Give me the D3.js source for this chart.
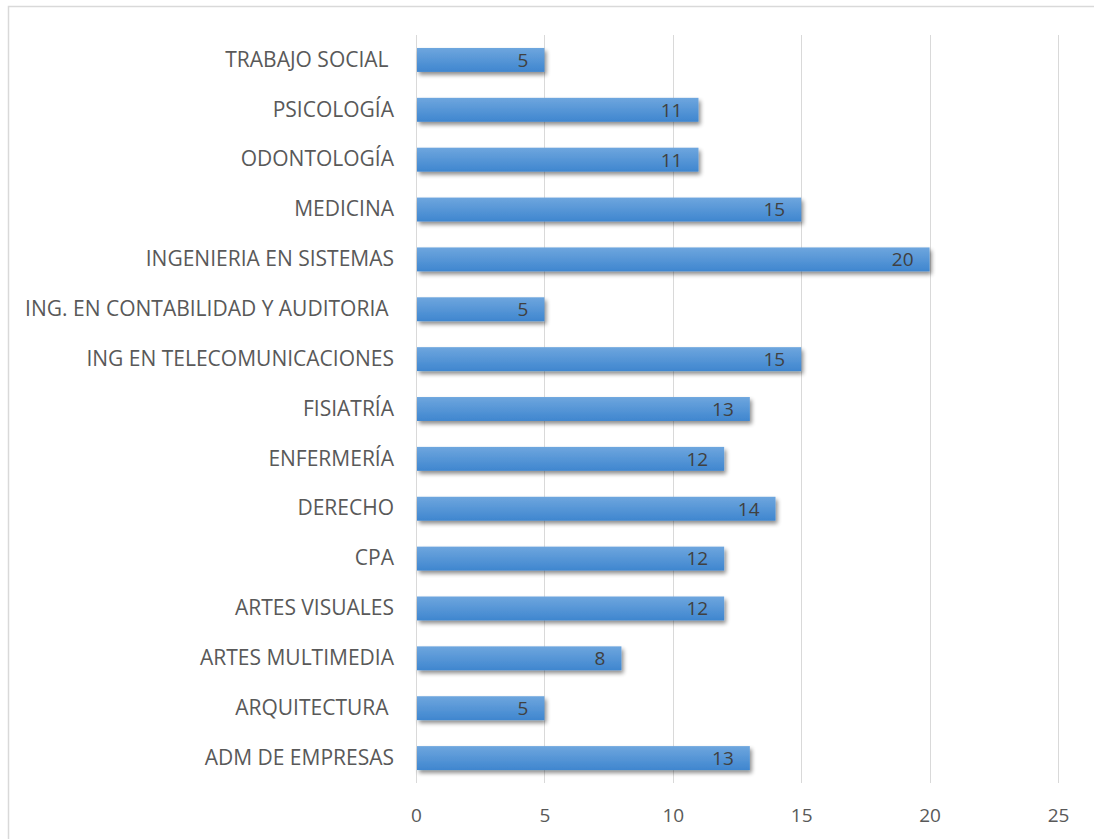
<!DOCTYPE html>
<html>
<head>
<meta charset="utf-8">
<script src="https://d3js.org/d3.v7.min.js"></script>
<style>
  html, body { margin: 0; padding: 0; background: #fff; }
  svg { display: block; }
  text { font-family: "Open Sans", "Noto Sans", sans-serif; }
</style>
</head>
<body>
<script>
// Programs, listed top to bottom as they appear on the chart
const carreras = [
  "TRABAJO SOCIAL ",
  "PSICOLOGÍA",
  "ODONTOLOGÍA",
  "MEDICINA",
  "INGENIERIA EN SISTEMAS",
  "ING. EN CONTABILIDAD Y AUDITORIA ",
  "ING EN TELECOMUNICACIONES",
  "FISIATRÍA",
  "ENFERMERÍA",
  "DERECHO",
  "CPA",
  "ARTES VISUALES",
  "ARTES MULTIMEDIA",
  "ARQUITECTURA ",
  "ADM DE EMPRESAS"
];
const valores = [5, 11, 11, 15, 20, 5, 15, 13, 12, 14, 12, 12, 8, 5, 13];
const ticksX = [0, 5, 10, 15, 20, 25];

const W = 1094, H = 839;
const plot = { left: 416, right: 1058, top: 35, bottom: 783 };

const svg = d3.select("body").append("svg")
  .attr("width", W).attr("height", H);

const defs = svg.append("defs");
const grad = defs.append("linearGradient")
  .attr("id", "barFill").attr("x1", 0).attr("y1", 0).attr("x2", 0).attr("y2", 1);
grad.append("stop").attr("offset", "0%").attr("stop-color", "#6ea6de");
grad.append("stop").attr("offset", "100%").attr("stop-color", "#3f86cf");

const shadow = defs.append("filter").attr("id", "barShadow")
  .attr("x", "-5%").attr("y", "-30%").attr("width", "115%").attr("height", "180%");
shadow.append("feGaussianBlur").attr("in", "SourceAlpha").attr("stdDeviation", 2.2).attr("result", "b");
shadow.append("feOffset").attr("in", "b").attr("dx", 2).attr("dy", 3).attr("result", "o");
shadow.append("feComponentTransfer").attr("in", "o").attr("result", "s")
  .append("feFuncA").attr("type", "linear").attr("slope", 0.45);
const merge = shadow.append("feMerge");
merge.append("feMergeNode").attr("in", "s");
merge.append("feMergeNode").attr("in", "SourceGraphic");

// Chart frame (top and left edges visible)
svg.append("path")
  .attr("d", `M8.5,${H} V6.5 H${W}`)
  .attr("fill", "none").attr("stroke", "#d9d9d9").attr("stroke-width", 1.5);

const x = d3.scaleLinear().domain([0, 25]).range([plot.left, plot.right]);
const y = d3.scaleBand().domain(carreras).range([plot.top, plot.bottom]).paddingInner(0.52).paddingOuter(0.26);

// Vertical gridlines
svg.append("g").selectAll("line").data(ticksX).join("line")
  .attr("x1", d => Math.round(x(d)) + 0.5).attr("x2", d => Math.round(x(d)) + 0.5)
  .attr("y1", plot.top).attr("y2", plot.bottom)
  .attr("stroke", "#d9d9d9").attr("stroke-width", 1);

// X axis tick labels
const xAxis = d3.axisBottom(x).tickValues(ticksX).tickSize(0).tickPadding(0);
const gx = svg.append("g").attr("transform", `translate(0,${plot.bottom + 32})`).call(xAxis);
gx.select(".domain").remove();
gx.selectAll("text")
  .attr("font-size", 19).attr("fill", "#595959").attr("dy", "0.35em")
  .style("font-family", "\"Open Sans\", sans-serif");

// Category labels
const yAxis = d3.axisLeft(y).tickSize(0).tickPadding(0);
const gy = svg.append("g").attr("transform", `translate(${plot.left - 22},0)`).call(yAxis);
gy.select(".domain").remove();
gy.selectAll("text")
  .attr("font-size", 21).attr("fill", "#595959")
  .style("white-space", "pre")
  .style("font-family", "\"Open Sans\", sans-serif");

// Bars
const rows = carreras.map((c, i) => ({ c, v: valores[i] }));
svg.append("g").selectAll("rect").data(rows).join("rect")
  .attr("x", x(0) + 1)
  .attr("y", d => y(d.c))
  .attr("width", d => x(d.v) - x(0) - 1)
  .attr("height", y.bandwidth())
  .attr("fill", "url(#barFill)")
  .attr("filter", "url(#barShadow)");

// Value labels inside bar ends
svg.append("g").selectAll("text").data(rows).join("text")
  .attr("x", d => x(d.v) - 16)
  .attr("y", d => y(d.c) + y.bandwidth() / 2)
  .attr("dy", "0.36em")
  .attr("text-anchor", "end")
  .attr("font-size", 19)
  .attr("fill", "#404040")
  .text(d => d.v);
</script>
</body>
</html>
